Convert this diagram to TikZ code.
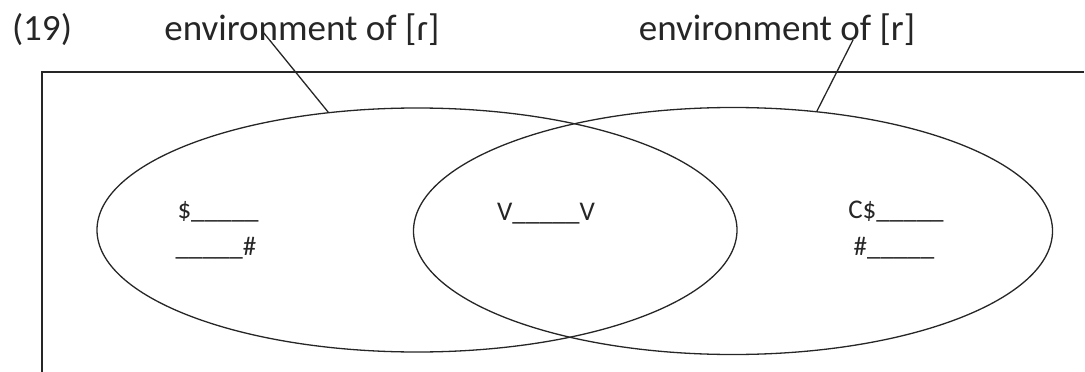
\documentclass[tikz,border=0pt]{standalone}
\usepackage{fontspec}
\setmainfont{Carlito}
\usetikzlibrary{shapes.geometric}
\begin{document}
\begin{tikzpicture}[x=1pt,y=-1pt,
  line/.style={line width=1.3pt,black!85},
  oval/.style={draw,line width=1.3pt,black!85,ellipse,inner sep=0pt},
  title/.style={font=\fontsize{37}{42}\selectfont,text=black!85,inner sep=0pt},
  label/.style={font=\fontsize{27}{31}\selectfont,text=black!85,inner sep=0pt}]
\useasboundingbox (0,0) rectangle (1085,372);
% frame
\coordinate (fbl) at (42,373);
\coordinate (ftl) at (42,72);
\coordinate (ftr) at (1084,72);
\draw[line] (fbl) -- (ftl) -- (ftr);
% titles
\node[title] (num) at (42,30) {(19)};
\node[title] (envL) at (302,30) {environment of [ɾ]};
\node[title] (envR) at (777,30) {environment of [r]};
% ellipses
\node[oval,minimum width=640,minimum height=244] (L) at (417,230) {};
\node[oval,minimum width=639,minimum height=247] (R) at (733,231) {};
% leader lines
\coordinate (pL) at (263,32);
\coordinate (pR) at (853,40);
\draw[line] (pL) -- (L.127);
\draw[line] (pR) -- (R.55);
% contents
\node[label] (a1) at (218,212) {\$\_\_\_\_\_};
\node[label] (a2) at (216,248) {\_\_\_\_\_\#};
\node[label] (b1) at (546,214) {V\_\_\_\_\_V};
\node[label] (c1) at (896,212) {C\$\_\_\_\_\_};
\node[label] (c2) at (894,248) {\#\_\_\_\_\_};
\end{tikzpicture}
\end{document}
